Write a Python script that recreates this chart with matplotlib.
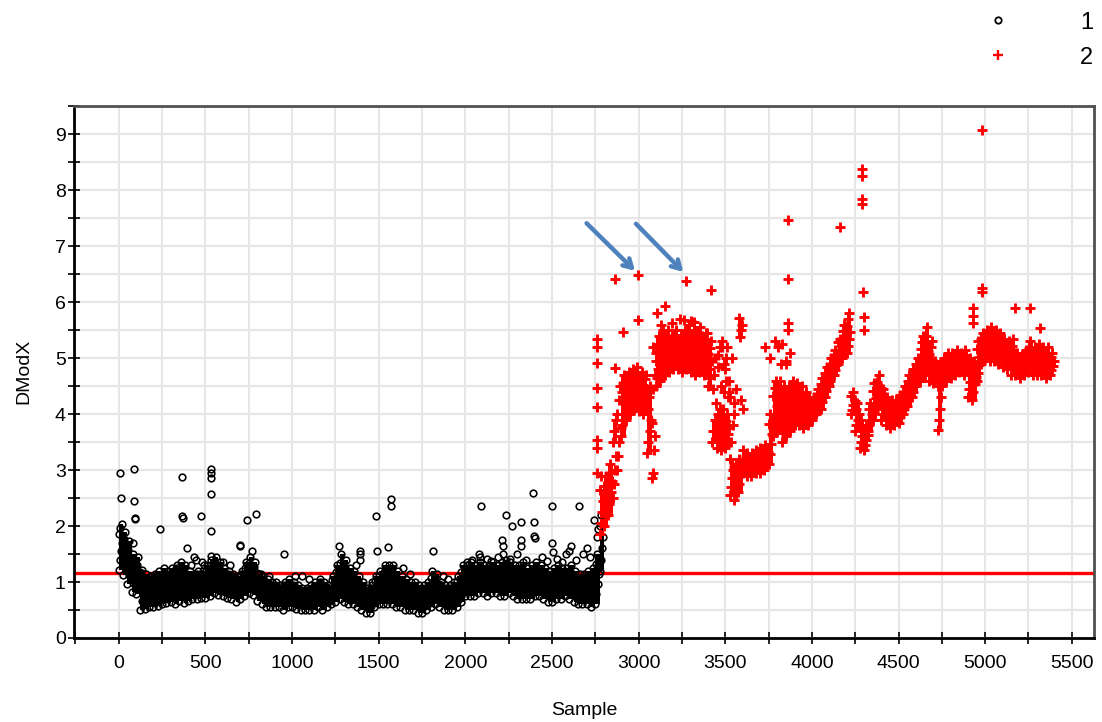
import numpy as np
import matplotlib
matplotlib.use("Agg")
import matplotlib.pyplot as plt
from matplotlib.lines import Line2D

plt.rcParams['font.family'] = ['Liberation Sans', 'DejaVu Sans']

# ---------------- data ----------------
# series 1: bins of 25 samples starting at 0; each string holds the DModX values seen in that bin
s1_start, bin_w = 0, 25
s1_bins = [
 "1.22 1.40 1.55 1.70 1.85 1.96 2.04", "1.12 1.28 1.45 1.60 1.76 1.90", "0.96 1.12 1.28 1.42 1.58 1.74",
 "0.82 0.98 1.12 1.26 1.38 1.50", "0.78 0.92 1.05 1.18 1.30 1.44", "0.50 0.66 0.80 0.95 1.08 1.22",
 "0.52 0.64 0.78 0.90 1.02 1.14", "0.56 0.68 0.80 0.92 1.04 1.10", "0.55 0.68 0.82 0.94 1.06 1.15",
 "0.57 0.70 0.84 0.98 1.10 1.20", "0.60 0.74 0.88 1.00 1.14 1.25", "0.62 0.75 0.88 1.02 1.12 1.20",
 "0.65 0.78 0.92 1.05 1.16 1.25", "0.60 0.74 0.90 1.04 1.18 1.30", "0.66 0.80 0.95 1.10 1.22 1.35",
 "0.62 0.76 0.92 1.06 1.18 1.30", "0.66 0.78 0.90 1.02 1.12 1.20", "0.70 0.80 0.92 1.02 1.10 1.15",
 "0.70 0.82 0.94 1.05 1.14 1.20", "0.72 0.84 0.96 1.06 1.14 1.20", "0.72 0.85 0.98 1.10 1.20 1.30",
 "0.75 0.88 1.02 1.15 1.28 1.40", "0.80 0.94 1.08 1.20 1.34 1.45", "0.76 0.90 1.04 1.16 1.26 1.35",
 "0.75 0.88 1.00 1.10 1.18 1.25", "0.72 0.84 0.96 1.06 1.14 1.20", "0.70 0.82 0.92 1.02 1.10 1.15",
 "0.65 0.76 0.88 0.98 1.05 1.10", "0.70 0.82 0.94 1.05 1.14 1.20", "0.75 0.88 1.02 1.14 1.25 1.35",
 "0.80 0.94 1.08 1.22 1.34 1.45", "0.76 0.90 1.04 1.16 1.26 1.35", "0.66 0.78 0.90 1.00 1.08 1.15",
 "0.60 0.72 0.84 0.95 1.04 1.10", "0.56 0.68 0.80 0.90 0.98 1.05", "0.55 0.66 0.76 0.86 0.94 1.00",
 "0.55 0.66 0.77 0.87 0.95 1.00", "0.55 0.64 0.74 0.83 0.90 0.95", "0.50 0.62 0.74 0.85 0.94 1.00",
 "0.55 0.66 0.78 0.88 0.97 1.05", "0.55 0.65 0.76 0.86 0.94 1.00", "0.52 0.62 0.72 0.82 0.90 0.95",
 "0.50 0.60 0.70 0.78 0.85 0.90", "0.50 0.59 0.68 0.77 0.85 0.90", "0.50 0.60 0.70 0.80 0.88 0.95",
 "0.50 0.62 0.73 0.84 0.93 1.00", "0.55 0.66 0.77 0.88 0.97 1.05", "0.50 0.62 0.73 0.84 0.93 1.00",
 "0.55 0.65 0.75 0.84 0.91 0.95", "0.60 0.72 0.84 0.95 1.04 1.10", "0.65 0.78 0.92 1.06 1.18 1.30",
 "0.70 0.86 1.02 1.18 1.34 1.50", "0.65 0.80 0.96 1.12 1.26 1.40", "0.60 0.74 0.88 1.02 1.14 1.25",
 "0.60 0.72 0.85 0.98 1.10 1.20", "0.55 0.67 0.80 0.92 1.02 1.10", "0.50 0.61 0.73 0.84 0.93 1.00",
 "0.45 0.56 0.67 0.77 0.85 0.90", "0.45 0.57 0.69 0.80 0.89 0.95", "0.55 0.67 0.80 0.92 1.02 1.10",
 "0.60 0.72 0.85 0.98 1.10 1.20", "0.60 0.74 0.89 1.04 1.18 1.30", "0.60 0.74 0.89 1.04 1.18 1.30",
 "0.60 0.74 0.88 1.02 1.16 1.30", "0.55 0.68 0.82 0.96 1.08 1.20", "0.55 0.66 0.78 0.90 1.00 1.10",
 "0.50 0.62 0.74 0.86 0.96 1.05", "0.50 0.61 0.72 0.83 0.92 1.00", "0.50 0.61 0.72 0.83 0.92 1.00",
 "0.45 0.56 0.68 0.79 0.88 0.95", "0.45 0.56 0.68 0.79 0.88 0.95", "0.50 0.61 0.72 0.83 0.92 1.00",
 "0.55 0.68 0.82 0.96 1.08 1.20", "0.60 0.72 0.85 0.97 1.07 1.15", "0.55 0.66 0.77 0.87 0.95 1.00",
 "0.50 0.60 0.71 0.81 0.89 0.95", "0.50 0.60 0.71 0.81 0.89 0.95", "0.50 0.61 0.72 0.83 0.92 1.00",
 "0.55 0.67 0.80 0.92 1.02 1.10", "0.65 0.78 0.92 1.06 1.18 1.30", "0.75 0.87 0.99 1.10 1.20 1.30",
 "0.75 0.88 1.01 1.13 1.25 1.35", "0.75 0.87 0.99 1.10 1.20 1.30", "0.80 0.92 1.04 1.15 1.26 1.35",
 "0.80 0.91 1.02 1.12 1.22 1.30", "0.75 0.87 0.99 1.10 1.20 1.30", "0.80 0.92 1.04 1.15 1.26 1.35",
 "0.80 0.91 1.02 1.12 1.22 1.30", "0.75 0.88 1.01 1.13 1.25 1.35", "0.75 0.89 1.03 1.16 1.29 1.40",
 "0.80 0.92 1.04 1.15 1.26 1.35", "0.75 0.87 0.99 1.10 1.20 1.30", "0.70 0.83 0.96 1.08 1.20 1.30",
 "0.70 0.84 0.98 1.11 1.24 1.35", "0.70 0.82 0.94 1.05 1.16 1.25", "0.70 0.83 0.96 1.08 1.20 1.30",
 "0.75 0.88 1.01 1.13 1.25 1.35", "0.75 0.87 0.99 1.10 1.20 1.30", "0.70 0.82 0.94 1.05 1.16 1.25",
 "0.65 0.77 0.89 1.00 1.11 1.20", "0.65 0.78 0.91 1.03 1.15 1.25", "0.70 0.83 0.96 1.08 1.20 1.30",
 "0.70 0.82 0.94 1.05 1.16 1.25", "0.75 0.86 0.97 1.07 1.17 1.25", "0.70 0.83 0.96 1.08 1.20 1.30",
 "0.65 0.77 0.89 1.00 1.11 1.20", "0.60 0.72 0.84 0.95 1.06 1.15", "0.60 0.72 0.84 0.95 1.06 1.15",
 "0.60 0.73 0.86 0.98 1.10 1.20", "0.55 0.69 0.83 0.97 1.11 1.25", "0.60 0.78 0.96 1.14 1.32 1.50",
 "1.20 1.40 1.60 1.80 2.00 2.20",
]
s1_out_x = [10, 12, 90, 90, 95, 92, 81, 185, 238, 365, 368, 372, 392, 437, 445, 475, 480, 533, 533, 535,
            533, 533, 535, 700, 702, 742, 767, 792, 956, 1271, 1392, 1395, 1390, 1485, 1488, 1556, 1569,
            1572, 1815, 2080, 2085, 2089, 2127, 2214, 2216, 2218, 2233, 2270, 2319, 2320, 2322, 2392,
            2395, 2398, 2400, 2500, 2502, 2504, 2580, 2600, 2610, 2654, 2702, 2745, 2760, 2765,
            170, 205, 330, 420, 490, 600, 640, 820, 870, 1020, 1060, 1100, 1160, 1370, 1460, 1640,
            1680, 1870, 1900, 2010, 2040, 2150, 2190, 2260, 2300, 2350, 2440, 2470, 2530, 2560, 2640,
            2680, 2720]
s1_out_y = [2.95, 2.50, 3.02, 2.45, 2.15, 2.12, 1.70, 1.10, 1.95, 2.87, 2.18, 2.15, 1.60, 1.45, 1.40, 2.18,
            1.35, 3.02, 2.95, 2.85, 2.57, 1.92, 1.47, 1.67, 1.65, 2.10, 1.55, 2.22, 1.50, 1.65, 1.55, 1.50,
            1.40, 2.18, 1.55, 1.62, 2.48, 2.35, 1.55, 1.50, 1.45, 2.36, 1.42, 1.75, 1.65, 1.50, 2.20, 2.00,
            2.07, 1.75, 1.65, 2.59, 2.07, 1.82, 1.78, 2.36, 1.70, 1.53, 1.50, 1.55, 1.65, 2.36, 1.60, 2.10,
            1.80, 1.95,
            1.05, 1.10, 1.25, 1.30, 1.30, 1.35, 1.30, 1.15, 1.10, 1.10, 1.10, 1.05, 1.00, 1.30, 1.00, 1.25,
            1.15, 1.10, 1.05, 1.35, 1.40, 1.38, 1.45, 1.42, 1.50, 1.40, 1.45, 1.38, 1.42, 1.35, 1.40,
            1.50, 1.45]

# series 2: bins of 25 samples starting at 2775
s2_start = 2775
s2_bins = [
 "1.85 2.05 2.25 2.45 2.65 2.90", "2.00 2.18 2.36 2.54 2.72 2.90", "2.20 2.40 2.60 2.80 2.95 3.10",
 "2.50 2.75 3.00 3.25 3.50 3.70 3.90", "3.00 3.25 3.50 3.75 4.00 4.25 4.50", "3.60 3.80 4.00 4.20 4.40 4.55 4.70",
 "3.90 4.05 4.20 4.35 4.50 4.62 4.75", "4.00 4.15 4.30 4.45 4.58 4.70 4.80", "4.10 4.25 4.40 4.52 4.64 4.75 4.85",
 "4.05 4.20 4.34 4.47 4.58 4.68 4.75", "4.00 4.14 4.28 4.40 4.52 4.62 4.70", "3.30 3.50 3.70 3.90 4.10 4.30 4.50",
 "2.85 2.95 3.35 3.60 3.85 4.45 4.70 4.95 5.20", "4.50 4.65 4.80 4.95 5.10 5.25 5.40",
 "4.60 4.75 4.90 5.05 5.20 5.35 5.50", "4.70 4.84 4.98 5.12 5.26 5.38 5.50", "4.75 4.88 5.01 5.14 5.26 5.34 5.40",
 "4.80 4.93 5.06 5.19 5.31 5.41 5.50", "4.80 4.92 5.04 5.16 5.26 5.34 5.40", "4.75 4.88 5.01 5.14 5.27 5.39 5.50",
 "4.80 4.94 5.08 5.22 5.36 5.48 5.60", "4.75 4.88 5.01 5.14 5.27 5.39 5.50", "4.70 4.83 4.96 5.09 5.22 5.34 5.45",
 "4.75 4.87 4.99 5.11 5.22 5.32 5.40", "4.70 4.83 4.96 5.09 5.22 5.34 5.45", "4.50 4.65 4.80 4.94 5.07 5.19 5.30",
 "3.50 3.70 3.90 4.20 4.45 4.70 5.00", "3.40 3.52 3.65 3.78 3.90 4.00 4.10 4.50 4.85",
 "3.35 3.48 3.62 3.76 3.90 4.10 4.40 4.80 5.20", "3.40 3.52 3.64 3.76 3.88 4.00 4.30 4.60 5.00",
 "2.55 2.70 2.85 3.00 3.20 3.50 3.80 4.20", "2.47 2.62 2.77 2.92 3.05 3.10",
 "2.60 2.75 2.90 3.05 3.20 5.38 5.50 5.60 5.71", "2.95 3.05 3.15 3.25 3.35", "2.90 3.00 3.10 3.20 3.30",
 "2.90 3.00 3.10 3.20 3.30", "2.95 3.05 3.15 3.25 3.35", "2.95 3.05 3.15 3.26 3.40", "3.00 3.10 3.20 3.32 3.45",
 "3.10 3.28 3.46 3.64 3.82 4.00", "3.60 3.78 3.96 4.14 4.32 4.46 4.60",
 "3.70 3.86 4.02 4.18 4.34 4.48 4.60 4.90 5.20", "3.50 3.66 3.82 3.98 4.14 4.30 4.50 4.90",
 "3.60 3.75 3.90 4.05 4.20 4.35 4.50 5.10", "3.70 3.85 4.00 4.15 4.30 4.45 4.60",
 "3.80 3.93 4.06 4.19 4.32 4.44 4.55", "3.80 3.92 4.04 4.16 4.28 4.40 4.50", "3.75 3.86 3.97 4.08 4.19 4.30 4.40",
 "3.80 3.90 4.00 4.10 4.20 4.30", "3.90 3.98 4.06 4.14 4.22 4.30", "4.00 4.09 4.18 4.27 4.36 4.45",
 "4.10 4.21 4.32 4.43 4.54 4.65", "4.30 4.41 4.52 4.63 4.74 4.85", "4.50 4.60 4.70 4.80 4.90 5.00",
 "4.70 4.79 4.88 4.97 5.06 5.15", "4.90 5.00 5.10 5.20 5.28 5.35", "5.00 5.12 5.24 5.36 5.48 5.60",
 "5.10 5.22 5.34 5.46 5.58 5.70 5.80", "4.00 4.08 4.16 4.24 4.32 4.40", "3.70 3.80 3.90 4.00 4.10 4.20",
 "3.40 3.50 3.60 3.70 3.80 3.90", "3.35 3.44 3.53 3.62 3.71 3.80", "3.70 3.80 3.90 4.00 4.10 4.20",
 "3.90 4.03 4.16 4.29 4.42 4.55", "4.10 4.22 4.34 4.46 4.58 4.70", "3.90 4.01 4.12 4.23 4.34 4.45",
 "3.80 3.90 4.00 4.10 4.20 4.30", "3.75 3.85 3.95 4.05 4.15 4.25", "3.80 3.89 3.98 4.07 4.16 4.25",
 "3.85 3.95 4.05 4.15 4.25 4.35", "4.00 4.10 4.20 4.30 4.40 4.50", "4.15 4.26 4.37 4.48 4.59 4.70",
 "4.30 4.40 4.50 4.60 4.70 4.80", "4.50 4.60 4.70 4.80 4.90 5.00", "4.60 4.74 4.88 5.02 5.16 5.28 5.40",
 "4.70 4.84 4.98 5.12 5.26 5.40 5.55", "4.60 4.72 4.84 4.96 5.08 5.20 5.30", "4.55 4.63 4.71 4.79 4.87 4.95",
 "3.72 3.90 4.10 4.30 4.50 4.70 4.90", "4.50 4.60 4.70 4.80 4.90 5.00", "4.60 4.70 4.80 4.90 5.00 5.10",
 "4.65 4.74 4.83 4.92 5.01 5.10", "4.70 4.79 4.88 4.97 5.06 5.15", "4.75 4.82 4.89 4.96 5.03 5.10",
 "4.70 4.79 4.88 4.97 5.06 5.15", "4.30 4.44 4.58 4.72 4.86 5.00", "4.25 4.39 4.53 4.67 4.81 4.95",
 "4.60 4.74 4.88 5.02 5.16 5.30", "4.90 5.01 5.12 5.23 5.34 5.45", "5.00 5.10 5.20 5.30 5.40 5.50",
 "4.95 5.07 5.19 5.31 5.43 5.55", "4.95 5.06 5.17 5.28 5.39 5.50", "4.90 5.01 5.12 5.23 5.34 5.45",
 "4.85 4.95 5.05 5.15 5.25 5.35", "4.80 4.90 5.00 5.10 5.20 5.30", "4.70 4.83 4.96 5.09 5.22 5.35",
 "4.70 4.78 4.86 4.94 5.02 5.10", "4.65 4.73 4.81 4.89 4.97 5.05", "4.70 4.79 4.88 4.97 5.06 5.15",
 "4.75 4.86 4.97 5.08 5.19 5.30", "4.70 4.80 4.90 5.00 5.10 5.20", "4.70 4.81 4.92 5.03 5.14 5.25",
 "4.70 4.80 4.90 5.00 5.10 5.20", "4.65 4.76 4.87 4.98 5.09 5.20", "4.70 4.78 4.86 4.94 5.02 5.10",
]
s2_out_x = [2760, 2760, 2760, 2760, 2760, 2760, 2760, 2760, 2863, 2996, 2911, 2996, 2863, 3104, 3152,
            3273, 3417, 3240, 3320, 3460, 3470, 3490, 3520, 3863, 3863, 3863, 3865, 4161, 4290, 4290,
            4290, 4290, 4296, 4298, 4300, 4931, 4931, 4931, 4979, 4979, 4981, 5171, 5258, 5315,
            3130, 3190, 3260, 3300, 3355, 3390, 3480, 3505, 3530, 3550, 3560, 3590, 3600, 3540, 3510,
            3730, 3760, 3790, 3830, 3850]
s2_out_y = [5.35, 5.20, 4.91, 4.46, 4.13, 3.54, 3.39, 2.94, 6.42, 6.49, 5.47, 5.68, 4.82, 5.80, 5.93,
            6.38, 6.22, 5.70, 5.65, 5.05, 5.20, 4.90, 4.40, 7.46, 6.41, 5.62, 5.50, 7.35, 8.38, 8.25,
            7.85, 7.75, 6.19, 5.74, 5.50, 5.89, 5.75, 5.62, 6.25, 6.19, 9.07, 5.89, 5.89, 5.53,
            5.60, 5.62, 5.68, 5.66, 5.55, 5.45, 5.30, 4.60, 4.30, 4.00, 4.45, 4.25, 4.10, 5.00, 5.20,
            5.20, 5.00, 5.30, 5.25, 4.95]

limit_value = 1.17
series_labels = ["1", "2"]
arrow_tails = [(2700, 7.41), (2985, 7.40)]
arrow_heads = [(2979, 6.56), (3258, 6.54)]


def expand(bins, start):
    xs, ys = [], []
    for i, b in enumerate(bins):
        vals = [float(v) for v in b.split()]
        for j, v in enumerate(vals):
            xs.append(start + i * bin_w + (j * 7) % bin_w)
            ys.append(v)
    return xs, ys


def dense_runs(bins, start, gap=0.22):
    """Runs of closely packed points in each bin (where the markers merge into a solid mass)."""
    xs, lo, hi = [], [], []
    for i, b in enumerate(bins):
        vals = sorted(float(v) for v in b.split())
        run = [vals[0]]
        for v in vals[1:]:
            if v - run[-1] <= gap:
                run.append(v)
            else:
                if len(run) > 1:
                    xs.append(start + i * bin_w); lo.append(run[0]); hi.append(run[-1])
                run = [v]
        if len(run) > 1:
            xs.append(start + i * bin_w); lo.append(run[0]); hi.append(run[-1])
    return np.array(xs), np.array(lo), np.array(hi)


x1, y1 = expand(s1_bins, s1_start)
x1 += s1_out_x
y1 += s1_out_y
x2, y2 = expand(s2_bins, s2_start)
x2 += s2_out_x
y2 += s2_out_y

# ---------------- figure ----------------
W, H = 1102, 722
fig = plt.figure(figsize=(W / 100, H / 100), dpi=100)
ax = fig.add_axes([74 / W, 1 - 638 / H, (1094 - 74) / W, (638 - 105.7) / H])

ax.set_xlim(-258, 5628)
ax.set_ylim(0, 9.51)

xt = np.arange(-250, 5501, 250)
ax.set_xticks(xt)
ax.set_xticklabels([str(int(t)) if (t >= 0 and t % 500 == 0) else "" for t in xt])
yt = np.arange(0, 9.51, 0.5)
ax.set_yticks(yt)
ax.set_yticklabels([str(int(t)) if t % 1 == 0 else "" for t in yt])

ax.grid(True, color="#e6e6e6", linewidth=1.5, zorder=0)
ax.set_axisbelow(True)

ax.tick_params(axis="both", direction="inout", length=8, width=1.2, colors="black",
               labelsize=14)
ax.tick_params(axis="x", pad=8)
ax.tick_params(axis="y", pad=2)

for side in ["left", "bottom"]:
    ax.spines[side].set_linewidth(2.0)
    ax.spines[side].set_color("black")
for side in ["top", "right"]:
    ax.spines[side].set_linewidth(2.0)
    ax.spines[side].set_color("#505050")

ax.axhline(limit_value, color="#ff0000", linewidth=2.4, zorder=2)

# solid mass where the many overlapping markers merge
bx, blo, bhi = dense_runs(s1_bins, s1_start)
ax.bar(bx, bhi - blo, bottom=blo, width=bin_w, align="edge", color="black", linewidth=0, zorder=3)
bx, blo, bhi = dense_runs(s2_bins, s2_start)
ax.bar(bx, bhi - blo, bottom=blo, width=bin_w, align="edge", color="#ff0000", linewidth=0, zorder=3)

h1, = ax.plot(x1, y1, linestyle="none", marker="o", markersize=4.8, markerfacecolor="none",
              markeredgecolor="black", markeredgewidth=1.15, zorder=4)
h2, = ax.plot(x2, y2, linestyle="none", marker="+", markersize=7.8, color="#ff0000",
              markeredgewidth=2.1, zorder=4)

for (tx, ty), (hx, hy) in zip(arrow_tails, arrow_heads):
    ax.annotate("", xy=(hx, hy), xytext=(tx, ty),
                arrowprops=dict(arrowstyle="->,head_length=0.6,head_width=0.35",
                                color="#4f81bd", lw=3.2, shrinkA=0, shrinkB=0),
                zorder=5)

ax.set_xlabel("Sample", fontsize=14, labelpad=22)
ax.set_ylabel("DModX", fontsize=14, labelpad=16)

lh1 = Line2D([], [], linestyle="none", marker="o", markersize=4.6, markerfacecolor="none",
             markeredgecolor="black", markeredgewidth=1.3)
lh2 = Line2D([], [], linestyle="none", marker="+", markersize=6.5, color="#ff0000", markeredgewidth=1.7)
fig.legend([lh1, lh2], series_labels, loc="upper right", bbox_to_anchor=(1110 / W, 1 + 5 / H),
           frameon=False, fontsize=17, handlelength=1.0, handletextpad=3.0, labelspacing=0.55,
           borderpad=0.2)

fig.savefig("out.png", dpi=100)
